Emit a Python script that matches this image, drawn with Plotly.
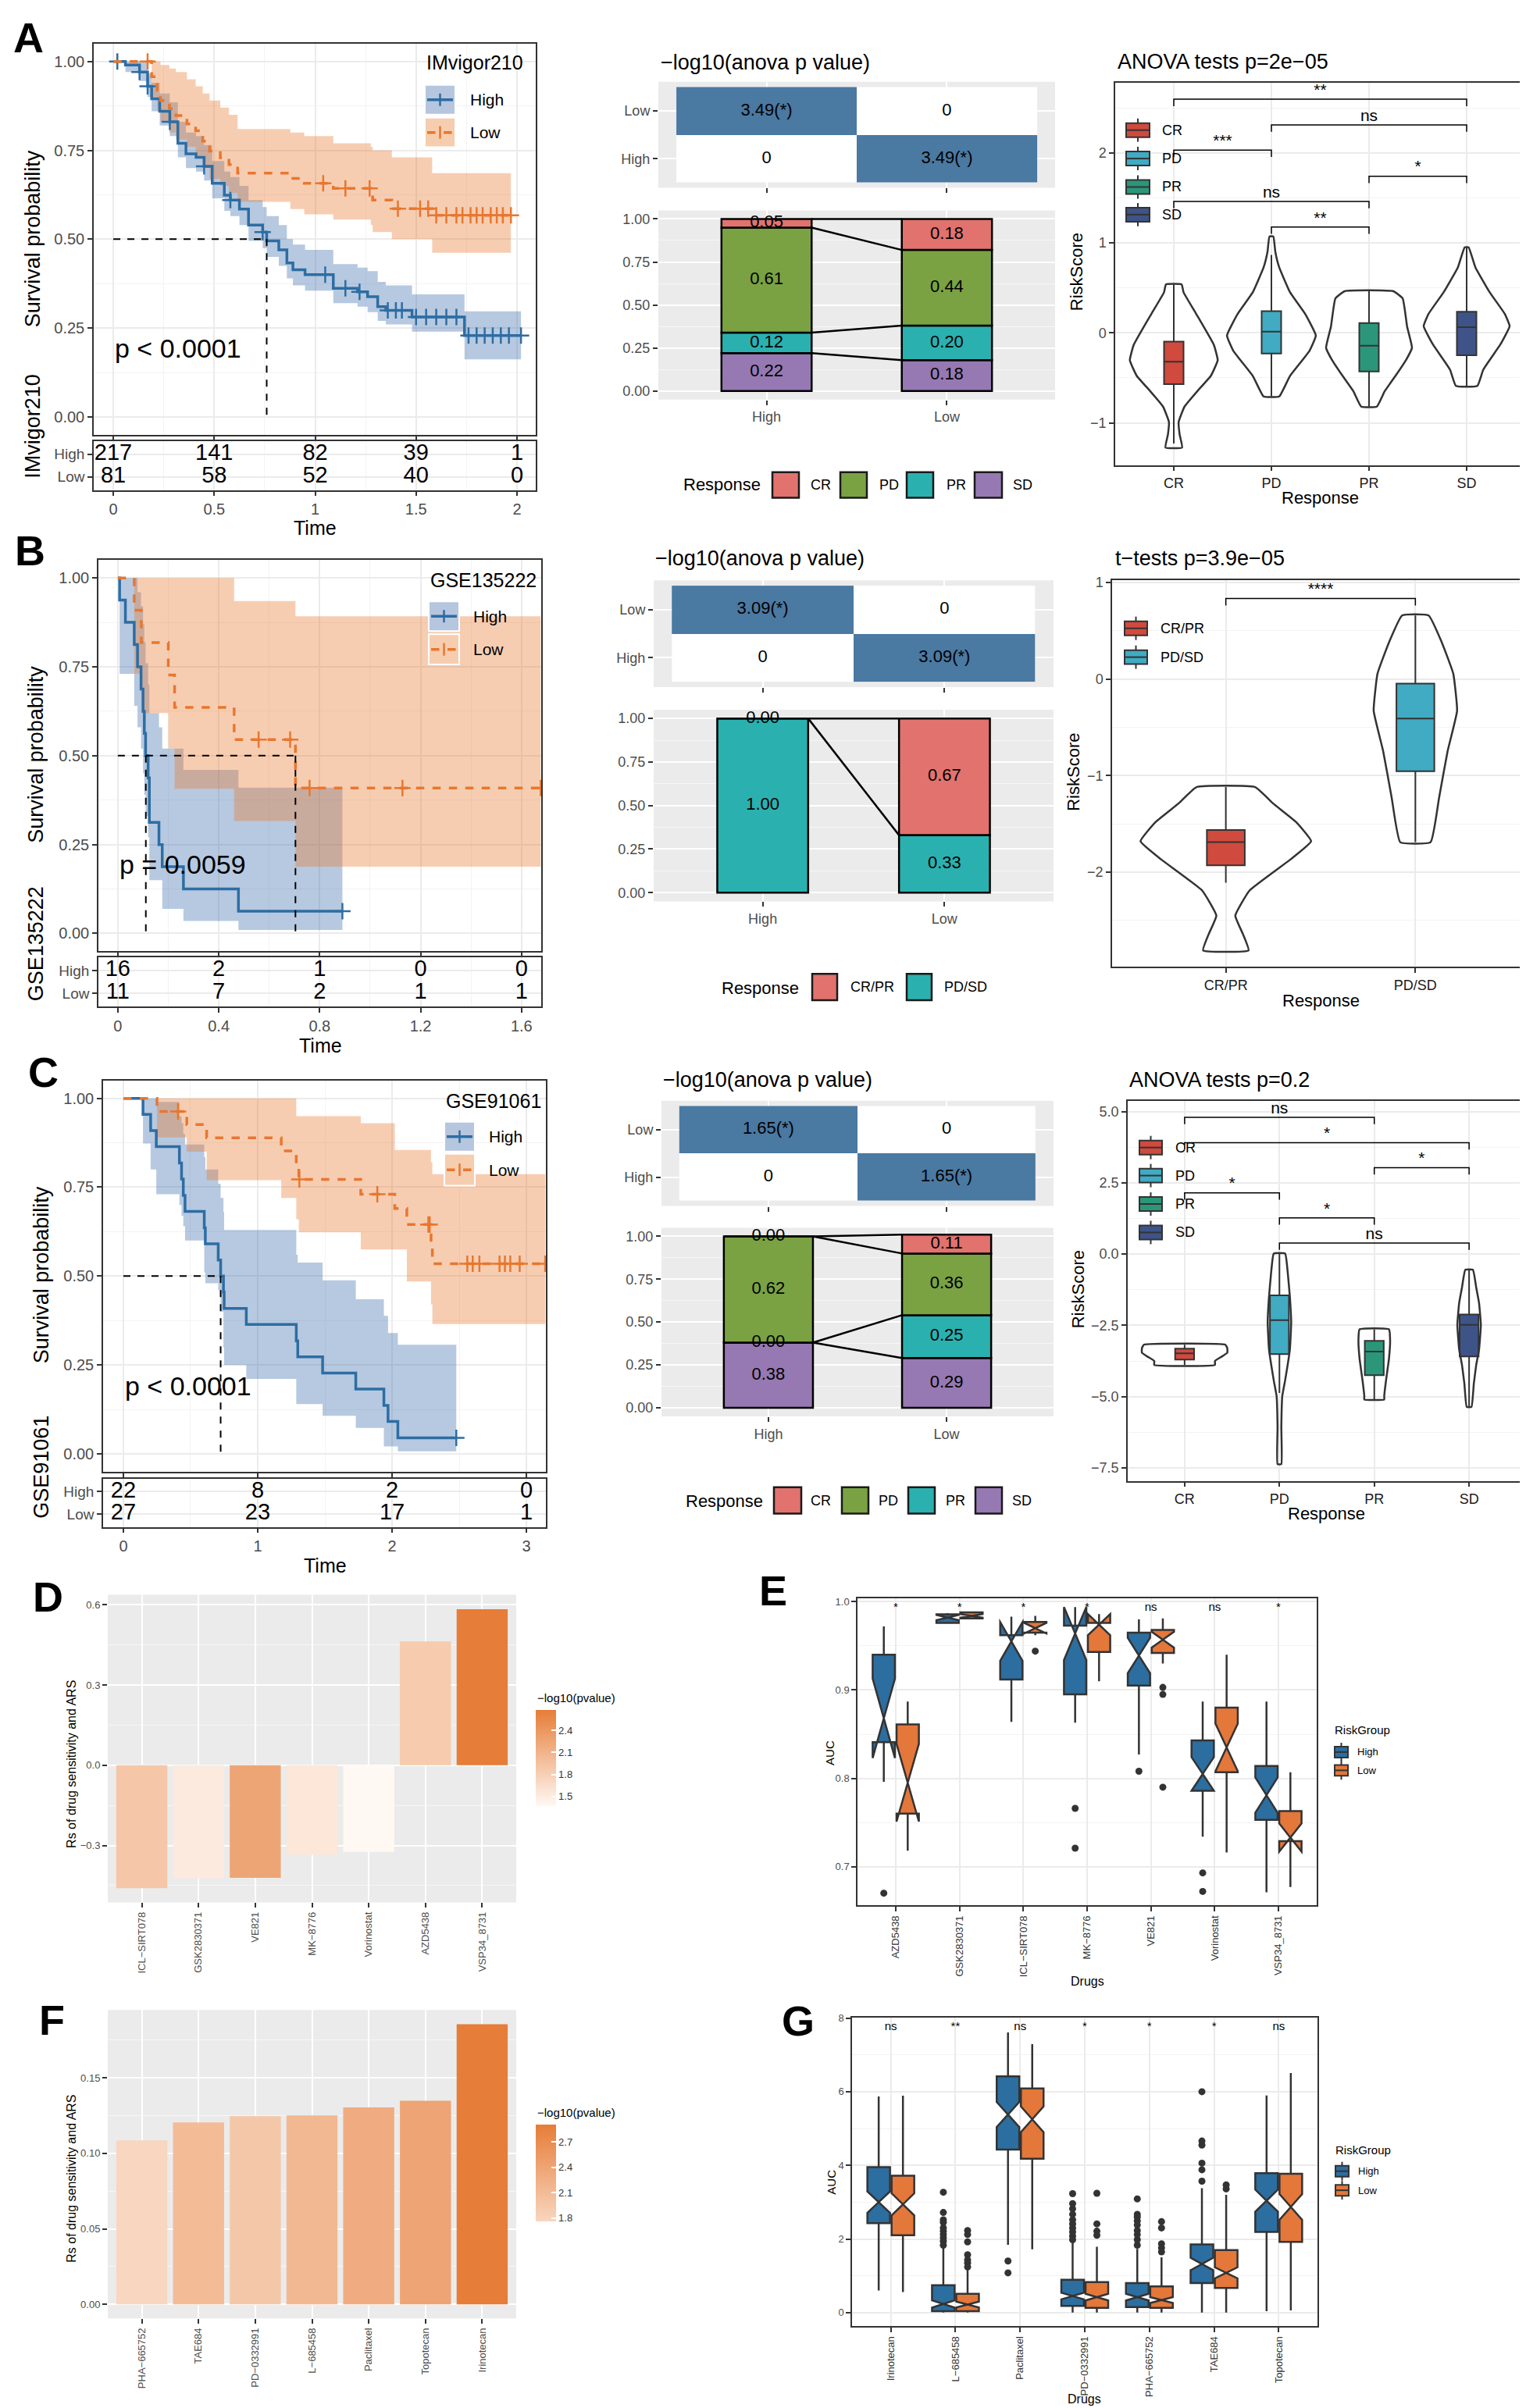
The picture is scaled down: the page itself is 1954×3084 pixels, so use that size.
import plotly.graph_objects as go

FONT = "Liberation Sans"
W, H = 1954, 3084

# ============================ DATA ============================
# ---------- Panel A : IMvigor210 ----------
A_cohort = "IMvigor210"
A_pval = "p &lt; 0.0001"
A_high_t = [0, 0.06, 0.13, 0.17, 0.19, 0.23, 0.28, 0.32, 0.36, 0.41, 0.45, 0.49, 0.55, 0.58, 0.625, 0.67, 0.74, 0.76, 0.82, 0.86, 0.89, 0.95, 1.09, 1.21, 1.26, 1.31, 1.35, 1.48, 1.74, 2.02]
A_high_s = [1.0, 0.99, 0.97, 0.93, 0.895, 0.86, 0.83, 0.77, 0.74, 0.73, 0.705, 0.657, 0.624, 0.61, 0.585, 0.54, 0.52, 0.495, 0.47, 0.433, 0.414, 0.40, 0.362, 0.352, 0.338, 0.31, 0.30, 0.281, 0.229, 0.229]
A_high_up = [1.0, 1.0, 1.0, 0.965, 0.94, 0.91, 0.885, 0.83, 0.80, 0.79, 0.765, 0.72, 0.69, 0.675, 0.65, 0.61, 0.59, 0.565, 0.54, 0.50, 0.485, 0.47, 0.43, 0.42, 0.41, 0.38, 0.37, 0.345, 0.297, 0.297]
A_high_lo = [1.0, 0.97, 0.945, 0.90, 0.86, 0.82, 0.79, 0.73, 0.70, 0.69, 0.665, 0.615, 0.58, 0.565, 0.54, 0.495, 0.475, 0.45, 0.425, 0.39, 0.37, 0.355, 0.32, 0.31, 0.295, 0.27, 0.26, 0.24, 0.162, 0.162]
A_high_cens = [0.02, 0.13, 0.17, 0.28, 0.45, 0.58, 0.74, 1.05, 1.15, 1.22, 1.36, 1.4, 1.43, 1.5, 1.55, 1.6, 1.65, 1.7, 1.76, 1.8, 1.84, 1.88, 1.92, 1.96, 2.02]
A_low_t = [0, 0.19, 0.217, 0.234, 0.278, 0.31, 0.365, 0.408, 0.443, 0.477, 0.53, 0.573, 0.616, 0.877, 0.946, 1.09, 1.276, 1.285, 1.38, 1.58, 1.97]
A_low_s = [1.0, 0.957, 0.919, 0.89, 0.867, 0.848, 0.824, 0.805, 0.776, 0.748, 0.729, 0.71, 0.686, 0.671, 0.657, 0.643, 0.624, 0.61, 0.586, 0.567, 0.567]
A_low_up = [1.0, 1.0, 1.0, 0.99, 0.98, 0.97, 0.95, 0.93, 0.91, 0.89, 0.87, 0.85, 0.81, 0.80, 0.79, 0.77, 0.76, 0.75, 0.73, 0.686, 0.686]
A_low_lo = [1.0, 0.90, 0.86, 0.83, 0.80, 0.78, 0.76, 0.73, 0.70, 0.67, 0.65, 0.63, 0.605, 0.585, 0.57, 0.555, 0.54, 0.52, 0.50, 0.462, 0.462]
A_low_cens = [0.17, 1.04, 1.15, 1.27, 1.41, 1.52, 1.56, 1.6, 1.65, 1.7, 1.73, 1.77, 1.8, 1.83, 1.87, 1.9, 1.93, 1.97]
A_median = [0.76]
A_risk_times = [0, 0.5, 1, 1.5, 2]
A_risk_high = [217, 141, 82, 39, 1]
A_risk_low = [81, 58, 52, 40, 0]
A_anova = 3.49
A_resp = ["CR", "PD", "PR", "SD"]
A_frac_high = [0.05, 0.61, 0.12, 0.22]
A_frac_low = [0.18, 0.44, 0.20, 0.18]
A_vio_title = "ANOVA tests p=2e\u221205"
A_vio_y = [[0.538, 0.45, 0.21, -0.133, -0.305, -0.477, -0.65, -0.82, -0.99, -1.13, -1.275],
           [1.07, 0.9, 0.727, 0.452, 0.211, -0.03, -0.2, -0.48, -0.707],
           [0.462, 0.38, 0.07, -0.167, -0.3, -0.48, -0.65, -0.82],
           [0.95, 0.727, 0.452, 0.211, 0.074, -0.13, -0.41, -0.59]]
A_vio_w = [[0.08, 0.1, 0.23, 0.41, 0.45, 0.38, 0.24, 0.11, 0.05, 0.06, 0.085],
           [0.02, 0.04, 0.08, 0.19, 0.345, 0.455, 0.39, 0.19, 0.08],
           [0.25, 0.345, 0.39, 0.44, 0.38, 0.27, 0.16, 0.08],
           [0.02, 0.09, 0.235, 0.39, 0.44, 0.345, 0.17, 0.11]]
A_box_q1 = [-0.57, -0.23, -0.43, -0.25]
A_box_med = [-0.322, 0.012, -0.143, 0.063]
A_box_q3 = [-0.098, 0.24, 0.108, 0.235]
A_box_lo = [-1.23, -0.707, -0.82, -0.59]
A_box_hi = [0.538, 0.865, 0.462, 0.95]
A_sig_i = [1, 2, 1, 3, 1, 2]
A_sig_j = [4, 4, 2, 4, 3, 3]
A_sig_y = [2.595, 2.31, 2.03, 1.74, 1.46, 1.175]
A_sig_lab = ["**", "ns", "***", "*", "ns", "**"]

# ---------- Panel B : GSE135222 ----------
B_cohort = "GSE135222"
B_pval = "p = 0.0059"
B_high_t = [0, 0.007, 0.03, 0.065, 0.078, 0.092, 0.1, 0.105, 0.11, 0.12, 0.125, 0.163, 0.176, 0.26, 0.478, 0.89]
B_high_s = [1.0, 0.9375, 0.875, 0.8125, 0.75, 0.6875, 0.625, 0.5625, 0.5, 0.4375, 0.3125, 0.25, 0.1875, 0.125, 0.0625, 0.0625]
B_high_up = [1.0, 1.0, 1.0, 1.0, 0.96, 0.92, 0.87, 0.82, 0.76, 0.70, 0.62, 0.58, 0.52, 0.46, 0.41, 0.41]
B_high_lo = [1.0, 0.73, 0.73, 0.64, 0.58, 0.52, 0.45, 0.39, 0.33, 0.27, 0.15, 0.15, 0.069, 0.035, 0.01, 0.01]
B_high_cens = [0.89]
B_low_t = [0, 0.065, 0.093, 0.2, 0.225, 0.461, 0.704, 1.676]
B_low_s = [1.0, 0.909, 0.818, 0.727, 0.636, 0.545, 0.409, 0.409]
B_low_up = [1.0, 1.0, 1.0, 1.0, 1.0, 0.935, 0.892, 0.892]
B_low_lo = [1.0, 0.73, 0.62, 0.52, 0.407, 0.316, 0.188, 0.188]
B_low_cens = [0.558, 0.683, 0.76, 1.128, 1.676]
B_median = [0.111, 0.704]
B_risk_times = [0, 0.4, 0.8, 1.2, 1.6]
B_risk_high = [16, 2, 1, 0, 0]
B_risk_low = [11, 7, 2, 1, 1]
B_anova = 3.09
B_resp = ["CR/PR", "PD/SD"]
B_frac_high = [0.00, 1.00]
B_frac_low = [0.67, 0.33]
B_vio_title = "t\u2212tests p=3.9e\u221205"
B_vio_y = [[-1.12, -1.29, -1.48, -1.68, -1.87, -2.19, -2.45, -2.64, -2.81],
           [0.657, 0.375, 0.054, -0.33, -0.747, -1.23, -1.69]]
B_vio_w = [[0.155, 0.25, 0.37, 0.45, 0.34, 0.125, 0.05, 0.09, 0.12],
           [0.07, 0.14, 0.2, 0.22, 0.17, 0.125, 0.08]]
B_box_q1 = [-1.93, -0.955]
B_box_med = [-1.69, -0.41]
B_box_q3 = [-1.564, -0.048]
B_box_lo = [-2.11, -1.69]
B_box_hi = [-1.12, 0.657]
B_sig_i = [1]
B_sig_j = [2]
B_sig_y = [0.833]
B_sig_lab = ["****"]

# ---------- Panel C : GSE91061 ----------
C_cohort = "GSE91061"
C_pval = "p &lt; 0.0001"
C_high_t = [0, 0.146, 0.203, 0.245, 0.417, 0.433, 0.446, 0.459, 0.602, 0.61, 0.706, 0.724, 0.745, 0.75, 0.915, 1.287, 1.298, 1.483, 1.73, 1.939, 1.97, 2.043, 2.478]
C_high_s = [1.0, 0.955, 0.909, 0.864, 0.818, 0.773, 0.727, 0.682, 0.636, 0.591, 0.545, 0.5, 0.455, 0.409, 0.364, 0.318, 0.273, 0.227, 0.182, 0.136, 0.091, 0.045, 0.045]
C_high_up = [1.0, 1.0, 1.0, 0.99, 0.95, 0.93, 0.90, 0.87, 0.835, 0.80, 0.76, 0.72, 0.68, 0.63, 0.63, 0.56, 0.538, 0.488, 0.435, 0.388, 0.34, 0.307, 0.307]
C_high_lo = [1.0, 0.873, 0.80, 0.73, 0.70, 0.67, 0.64, 0.60, 0.51, 0.48, 0.46, 0.40, 0.30, 0.25, 0.211, 0.14, 0.14, 0.107, 0.073, 0.021, 0.021, 0.007, 0.007]
C_high_cens = [2.478]
C_low_t = [0, 0.25, 0.472, 0.62, 1.175, 1.287, 1.306, 1.767, 2.02, 2.11, 2.29, 2.30, 3.14]
C_low_s = [1.0, 0.963, 0.926, 0.889, 0.852, 0.815, 0.772, 0.73, 0.69, 0.645, 0.59, 0.535, 0.535]
C_low_up = [1.0, 1.0, 1.0, 1.0, 1.0, 0.95, 0.95, 0.93, 0.855, 0.855, 0.82, 0.787, 0.787]
C_low_lo = [1.0, 0.89, 0.85, 0.77, 0.72, 0.66, 0.623, 0.575, 0.575, 0.485, 0.42, 0.365, 0.365]
C_low_cens = [0.407, 1.31, 1.89, 2.27, 2.28, 2.56, 2.6, 2.65, 2.8, 2.84, 2.88, 2.95, 3.14]
C_median = [0.724]
C_risk_times = [0, 1, 2, 3]
C_risk_high = [22, 8, 2, 0]
C_risk_low = [27, 23, 17, 1]
C_anova = 1.65
C_resp = ["CR", "PD", "PR", "SD"]
C_frac_high = [0.00, 0.62, 0.00, 0.38]
C_frac_low = [0.11, 0.36, 0.25, 0.29]
C_vio_title = "ANOVA tests p=0.2"
C_vio_y = [[-3.18, -3.3, -3.46, -3.62, -3.75, -3.89],
           [0.02, -0.63, -1.5, -2.39, -3.35, -4.43, -4.98, -6.07, -7.37],
           [-2.64, -3.02, -3.67, -4.43, -4.98, -5.1],
           [-0.55, -1.17, -1.72, -2.48, -3.35, -3.89, -4.54, -5.36]]
C_vio_w = [[0.43, 0.45, 0.45, 0.38, 0.32, 0.32],
           [0.06, 0.087, 0.11, 0.124, 0.11, 0.06, 0.03, 0.02, 0.02],
           [0.155, 0.167, 0.155, 0.124, 0.105, 0.105],
           [0.04, 0.075, 0.105, 0.124, 0.105, 0.075, 0.05, 0.025]]
C_box_q1 = [-3.70, -3.51, -4.25, -3.59]
C_box_med = [-3.48, -2.32, -3.42, -2.48]
C_box_q3 = [-3.32, -1.45, -3.04, -2.12]
C_box_lo = [-3.89, -4.87, -5.1, -5.36]
C_box_hi = [-3.18, 0.02, -2.64, -0.55]
C_sig_i = [1, 1, 3, 1, 2, 2]
C_sig_j = [3, 4, 4, 2, 3, 4]
C_sig_y = [4.8, 3.91, 3.03, 2.15, 1.27, 0.39]
C_sig_lab = ["ns", "*", "*", "*", "*", "ns"]

# ---------- Panel D ----------
D_drugs = ["ICL\u2212SIRT078", "GSK2830371", "VE821", "MK\u22128776", "Vorinostat", "AZD5438", "VSP34_8731"]
D_rs = [-0.46, -0.423, -0.421, -0.334, -0.324, 0.463, 0.584]
D_logp = [1.9, 1.52, 2.25, 1.55, 1.37, 1.85, 2.68]

# ---------- Panel E ----------
E_drugs = ["AZD5438", "GSK2830371", "ICL\u2212SIRT078", "MK\u22128776", "VE821", "Vorinostat", "VSP34_8731"]
E_sig = ["*", "*", "*", "*", "ns", "ns", "*"]
E_high_q1 = [0.841, 0.976, 0.912, 0.895, 0.905, 0.786, 0.753]
E_high_med = [0.868, 0.982, 0.955, 0.964, 0.939, 0.805, 0.781]
E_high_q3 = [0.94, 0.9857, 0.962, 0.973, 0.965, 0.843, 0.814]
E_high_lo = [0.796, 0.975, 0.864, 0.863, 0.827, 0.734, 0.671]
E_high_hi = [0.972, 0.987, 0.983, 0.988, 0.98, 0.887, 0.887]
E_high_notch = [0.045, 0.003, 0.022, 0.03, 0.02, 0.019, 0.02]
E_high_out = [[0.67], [], [], [0.766, 0.721], [0.808], [0.693, 0.672], []]
E_low_q1 = [0.760, 0.981, 0.965, 0.943, 0.942, 0.807, 0.729]
E_low_med = [0.795, 0.984, 0.97, 0.974, 0.957, 0.835, 0.733]
E_low_q3 = [0.861, 0.988, 0.977, 0.976, 0.968, 0.88, 0.763]
E_low_lo = [0.718, 0.980, 0.962, 0.91, 0.93, 0.716, 0.677]
E_low_hi = [0.887, 0.989, 0.984, 0.986, 0.981, 0.94, 0.807]
E_low_notch = [0.044, 0.002, 0.006, 0.012, 0.009, 0.027, 0.016]
E_low_out = [[], [], [0.944], [], [0.903, 0.895, 0.79], [], []]

# ---------- Panel F ----------
F_drugs = ["PHA\u2212665752", "TAE684", "PD\u22120332991", "L\u2212685458", "Paclitaxel", "Topotecan", "Irinotecan"]
F_rs = [0.1086, 0.1205, 0.1246, 0.1252, 0.1304, 0.1348, 0.1855]
F_logp = [1.763, 2.1, 1.95, 2.15, 2.3, 2.4, 2.908]

# ---------- Panel G ----------
G_drugs = ["Irinotecan", "L\u2212685458", "Paclitaxel", "PD\u22120332991", "PHA\u2212665752", "TAE684", "Topotecan"]
G_sig = ["ns", "**", "ns", "*", "*", "*", "ns"]
G_high_q1 = [2.43, 0.037, 4.43, 0.18, 0.15, 0.8, 2.19]
G_high_med = [3.0, 0.234, 5.38, 0.45, 0.42, 1.32, 3.04]
G_high_q3 = [3.95, 0.746, 6.42, 0.89, 0.8, 1.85, 3.79]
G_high_lo = [0.6, 0.0, 1.84, 0.0, 0.0, 0.0, 0.04]
G_high_hi = [5.87, 1.76, 7.61, 1.9, 1.73, 3.38, 5.9]
G_high_notch = [0.29, 0.1, 0.34, 0.09, 0.09, 0.17, 0.3]
G_high_out = [[], [3.27, 2.72, 2.52, 2.45, 2.3, 2.21, 2.12, 2.03, 1.94, 1.83], [1.40, 1.08],
              [3.23, 2.96, 2.82, 2.67, 2.52, 2.41, 2.3, 2.19, 2.08, 1.98],
              [3.09, 2.67, 2.6, 2.49, 2.38, 2.23, 2.12, 1.98, 1.83], [6.0, 4.66, 4.55, 4.06, 3.88, 3.57], []]
G_low_q1 = [2.1, 0.04, 4.18, 0.13, 0.13, 0.67, 1.92]
G_low_med = [2.94, 0.22, 5.25, 0.42, 0.34, 1.08, 2.87]
G_low_q3 = [3.72, 0.512, 6.09, 0.83, 0.71, 1.7, 3.77]
G_low_lo = [0.56, 0.0, 1.72, 0.0, 0.0, 0.0, 0.06]
G_low_hi = [5.89, 1.17, 7.29, 1.79, 1.5, 3.2, 6.51]
G_low_notch = [0.3, 0.08, 0.35, 0.09, 0.08, 0.15, 0.35]
G_low_out = [[], [2.23, 2.12, 1.92, 1.57, 1.43, 1.35, 1.24], [], [3.24, 2.41, 2.21, 2.1],
             [2.47, 2.3, 1.87, 1.76, 1.65], [3.47, 3.36], []]

# ============================ STYLE ============================
BLUE, ORANGE = "#2D6DA3", "#E8772E"
BLUE_F, ORANGE_F = "rgba(45,100,165,0.35)", "rgba(232,119,46,0.37)"
BLUE_KEY, ORANGE_KEY = "#B6C6DE", "#F6CDAE"
HEAT_BLUE = "#4A79A2"
RESP4 = ["#E2726E", "#7AA243", "#2AB1AF", "#9679B2"]
RESP2 = ["#E2726E", "#2AB1AF"]
VIO4 = ["#D04A3E", "#40ABC3", "#2B967A", "#3E5488"]
VIO2 = ["#D04A3E", "#40ABC3"]
BOX_BLUE, BOX_ORANGE = "#2C6E9F", "#E4773A"
DARK = "#333333"
GRID_BW, MINOR_BW = "#EBEBEB", "#F3F3F3"


def fx(p):
    return p / W


def fy(p):
    return 1 - p / H


traces, shapes, annotations = [], [], []
layout = dict(width=W, height=H, margin=dict(l=0, r=0, t=0, b=0), paper_bgcolor="white",
              plot_bgcolor="rgba(0,0,0,0)", font=dict(family=FONT, color="#1a1a1a"),
              showlegend=False, barmode="overlay", boxmode="overlay", hovermode=False)
_n = [0]


def new_axes(x0, x1, y0, y1, xr, yr, xopts, yopts):
    _n[0] += 1
    k = "" if _n[0] == 1 else str(_n[0])
    xa = dict(domain=[fx(x0), fx(x1)], range=xr, anchor="y" + k, zeroline=False, fixedrange=True)
    ya = dict(domain=[fy(y1), fy(y0)], range=yr, anchor="x" + k, zeroline=False, fixedrange=True)
    xa.update(xopts)
    ya.update(yopts)
    layout["xaxis" + k] = xa
    layout["yaxis" + k] = ya
    return "x" + k, "y" + k


def bw(size=20, color="#4D4D4D", minor=None, **kw):
    d = dict(showline=True, mirror=True, linecolor=DARK, linewidth=1.5, showgrid=True,
             gridcolor=GRID_BW, gridwidth=1.6, ticks="outside", ticklen=6, tickwidth=1.5,
             tickcolor=DARK, showticklabels=True, tickfont=dict(size=size, color=color, family=FONT))
    if minor is not None:
        d["minor"] = dict(dtick=minor, showgrid=True, gridcolor=MINOR_BW, gridwidth=1)
    d.update(kw)
    return d


def grey(size=18, color="#4D4D4D", minor=None, **kw):
    d = dict(showline=False, showgrid=True, gridcolor="white", gridwidth=2, ticks="outside",
             ticklen=6, tickwidth=1.5, tickcolor=DARK, showticklabels=True,
             tickfont=dict(size=size, color=color, family=FONT))
    if minor is not None:
        d["minor"] = dict(dtick=minor, showgrid=True, gridcolor="#F7F7F7", gridwidth=1)
    d.update(kw)
    return d


def grey_bg(xa, ya):
    shapes.append(dict(type="rect", xref=xa + " domain", yref=ya + " domain", x0=0, x1=1, y0=0, y1=1,
                       fillcolor="#EBEBEB", line=dict(width=0), layer="below"))


def ann(text, x, y, size, color="#1a1a1a", xanchor="center", yanchor="middle", angle=0):
    annotations.append(dict(text=text, x=fx(x), y=fy(y), xref="paper", yref="paper", showarrow=False,
                            xanchor=xanchor, yanchor=yanchor, textangle=angle,
                            font=dict(family=FONT, size=size, color=color)))


def prect(x0, y0, x1, y1, fill, lc=None, lw=0, layer="above"):
    shapes.append(dict(type="rect", xref="paper", yref="paper", x0=fx(x0), x1=fx(x1), y0=fy(y1), y1=fy(y0),
                       fillcolor=fill, line=dict(color=lc or fill, width=lw), layer=layer))


def pline(x0, y0, x1, y1, color, w, dash="solid"):
    shapes.append(dict(type="line", xref="paper", yref="paper", x0=fx(x0), x1=fx(x1), y0=fy(y0), y1=fy(y1),
                       line=dict(color=color, width=w, dash=dash)))


def step_at(t, s, c):
    v = s[0]
    for ti, si in zip(t, s):
        if ti <= c:
            v = si
    return v


# ============================ KM BLOCKS ============================
def km_block(px, py, ty, xr, dt, mdt, hi, lo, meds, rt, rh, rl, pval, ppos, cohort,
             leg, ylab_pos, coh_pos, time_pos):
    xa, ya = new_axes(px[0], px[1], py[0], py[1], xr, [-0.05, 1.05],
                      bw(tick0=0, dtick=dt, showticklabels=False, minor=mdt),
                      bw(tick0=0, dtick=0.25, tickformat=".2f", minor=0.125))
    for g, fillc in ((hi, BLUE_F), (lo, ORANGE_F)):
        t, s, up, dn, cens = g
        traces.append(go.Scatter(x=t, y=dn, mode="lines", line=dict(width=0, shape="hv"), xaxis=xa, yaxis=ya))
        traces.append(go.Scatter(x=t, y=up, mode="lines", line=dict(width=0, shape="hv"), fill="tonexty",
                                 fillcolor=fillc, xaxis=xa, yaxis=ya))
    for g, col, dash in ((hi, BLUE, "solid"), (lo, ORANGE, "dash")):
        t, s, up, dn, cens = g
        traces.append(go.Scatter(x=t, y=s, mode="lines", line=dict(color=col, width=3.5, shape="hv", dash=dash),
                                 xaxis=xa, yaxis=ya))
        traces.append(go.Scatter(x=cens, y=[step_at(t, s, c) for c in cens], mode="markers",
                                 marker=dict(symbol="cross-thin", size=15, line=dict(width=2.5, color=col)),
                                 xaxis=xa, yaxis=ya))
    traces.append(go.Scatter(x=[0, max(meds)], y=[0.5, 0.5], mode="lines",
                             line=dict(color="black", width=2, dash="dash"), xaxis=xa, yaxis=ya))
    for m in meds:
        traces.append(go.Scatter(x=[m, m], y=[0.5, 0], mode="lines",
                                 line=dict(color="black", width=2, dash="dash"), xaxis=xa, yaxis=ya))
    # risk table
    xb, yb = new_axes(px[0], px[1], ty[0], ty[1], xr, [0.414, 2.586],
                      bw(tick0=0, dtick=dt, minor=mdt),
                      bw(size=19, tickmode="array", tickvals=[1, 2], ticktext=["Low", "High"]))
    traces.append(go.Scatter(x=rt, y=[2] * len(rt), mode="text", text=[str(v) for v in rh],
                             textfont=dict(size=29, color="black", family=FONT), xaxis=xb, yaxis=yb))
    traces.append(go.Scatter(x=rt, y=[1] * len(rt), mode="text", text=[str(v) for v in rl],
                             textfont=dict(size=29, color="black", family=FONT), xaxis=xb, yaxis=yb))
    # texts
    ann(pval, ppos[0], ppos[1], 34, color="black", xanchor="left")
    ann("Survival probability", ylab_pos[0], ylab_pos[1], 27, color="black", angle=-90)
    ann(cohort, coh_pos[0], coh_pos[1], 27, color="black", angle=-90)
    ann("Time", time_pos[0], time_pos[1], 25, color="black")
    # legend
    lx, ty0, k1, k2, labx = leg
    ann(cohort, lx, ty0, 25, color="black", xanchor="left")
    for (y0, y1), col, fc, dash, lab in ((k1, BLUE, BLUE_KEY, "solid", "High"),
                                          (k2, ORANGE, ORANGE_KEY, "dash", "Low")):
        prect(lx, y0, lx + 39, y1, fc, "white", 2)
        cy = (y0 + y1) / 2
        pline(lx + 3, cy, lx + 36, cy, col, 3.5, dash)
        pline(lx + 19.5, cy - 8, lx + 19.5, cy + 8, col, 2.5)
        ann(lab, labx, cy, 21, color="black", xanchor="left")


km_block((112, 678), (41, 543), (551, 614), [-0.097, 2.093], 0.5, 0.25,
         (A_high_t, A_high_s, A_high_up, A_high_lo, A_high_cens),
         (A_low_t, A_low_s, A_low_up, A_low_lo, A_low_cens),
         A_median, A_risk_times, A_risk_high, A_risk_low, A_pval, (137, 432), A_cohort,
         (536, 65, (94, 132), (136, 174), 592), (34, 292), (34, 532), (395, 663))
km_block((118, 685), (704, 1206), (1214, 1277), [-0.077, 1.678], 0.4, 0.2,
         (B_high_t, B_high_s, B_high_up, B_high_lo, B_high_cens),
         (B_low_t, B_low_s, B_low_up, B_low_lo, B_low_cens),
         B_median, B_risk_times, B_risk_high, B_risk_low, B_pval, (143, 1094), B_cohort,
         (541, 730, (757, 795), (799, 838), 596), (38, 954), (38, 1197), (402, 1327))
km_block((124, 691), (1372, 1874), (1883, 1945), [-0.151, 3.145], 1, 0.5,
         (C_high_t, C_high_s, C_high_up, C_high_lo, C_high_cens),
         (C_low_t, C_low_s, C_low_up, C_low_lo, C_low_cens),
         C_median, C_risk_times, C_risk_high, C_risk_low, C_pval, (150, 1764), C_cohort,
         (561, 1398, (1425, 1463), (1466, 1507), 616), (45, 1622), (45, 1868), (408, 1995))


# ============================ HEATMAP + STACKED ============================
def mid_block(px, hy, by, title_pos, val, resp, fh, fl, colors, leg):
    xa, ya = new_axes(px[0], px[1], hy[0], hy[1], [0.4, 2.6], [0.39, 2.61],
                      grey(tickmode="array", tickvals=[1, 2], showticklabels=False),
                      grey(tickmode="array", tickvals=[1, 2], ticktext=["High", "Low"]))
    grey_bg(xa, ya)
    z = [[0, val], [val, 0]]
    traces.append(go.Heatmap(x=[1, 2], y=[1, 2], z=z, colorscale=[[0, "white"], [1, HEAT_BLUE]],
                             showscale=False, zmin=0, zmax=val, xaxis=xa, yaxis=ya))
    tx, ty, tt = [], [], []
    for r in range(2):
        for c in range(2):
            tx.append(c + 1)
            ty.append(r + 1)
            tt.append("%.2f(*)" % z[r][c] if z[r][c] > 0 else "0")
    traces.append(go.Scatter(x=tx, y=ty, mode="text", text=tt,
                             textfont=dict(size=22, color="black", family=FONT), xaxis=xa, yaxis=ya))
    ann("\u2212log10(anova p value)", title_pos[0], title_pos[1], 27, color="black", xanchor="left")

    xb, yb = new_axes(px[0], px[1], by[0], by[1], [0.4, 2.6], [-0.05, 1.05],
                      grey(tickmode="array", tickvals=[1, 2], ticktext=["High", "Low"]),
                      grey(tick0=0, dtick=0.25, tickformat=".2f", minor=0.125))
    grey_bg(xb, yb)
    order = list(range(len(resp)))[::-1]  # bottom-most is last response level
    base_h, base_l = 0.0, 0.0
    cum_h, cum_l = [], []
    lx, ly, lt = [], [], []
    for i in order:
        traces.append(go.Bar(x=[1, 2], y=[fh[i], fl[i]], base=[base_h, base_l], width=0.5,
                             marker=dict(color=colors[i], line=dict(color="black", width=2.5)),
                             xaxis=xb, yaxis=yb))
        lx += [1, 2]
        ly += [base_h + fh[i] / 2, base_l + fl[i] / 2]
        lt += ["%.2f" % fh[i], "%.2f" % fl[i]]
        base_h += fh[i]
        base_l += fl[i]
        cum_h.append(base_h)
        cum_l.append(base_l)
    for h, l in zip(cum_h, cum_l):
        traces.append(go.Scatter(x=[1.25, 1.75], y=[h, l], mode="lines",
                                 line=dict(color="black", width=2.5), xaxis=xb, yaxis=yb))
    traces.append(go.Scatter(x=lx, y=ly, mode="text", text=lt,
                             textfont=dict(size=22, color="black", family=FONT), xaxis=xb, yaxis=yb))
    # legend
    rx, ry, keys, labs, (k0, k1) = leg
    ann("Response", rx, ry, 22, color="black", xanchor="left")
    for (a, b), lxp, name, col in zip(keys, labs, resp, colors):
        prect(a, k0, b, k1, col, "#1a1a1a", 2.5)
        ann(name, lxp, (k0 + k1) / 2, 18, color="black", xanchor="left")


mid_block((835, 1343), (90, 226), (255, 498), (836, 65), A_anova, A_resp, A_frac_high, A_frac_low, RESP4,
          (865, 607, [(981, 1015), (1068, 1102), (1153, 1187), (1240, 1275)], [1028, 1116, 1202, 1287], (591, 624)))
mid_block((829, 1341), (730, 867), (896, 1142), (829, 702), B_anova, B_resp, B_frac_high, B_frac_low, RESP2,
          (914, 1253, [(1032, 1064), (1153, 1185)], [1079, 1199], (1235, 1269)))
mid_block((839, 1341), (1398, 1533), (1561, 1803), (839, 1371), C_anova, C_resp, C_frac_high, C_frac_low, RESP4,
          (868, 1912, [(983, 1018), (1070, 1104), (1155, 1189), (1241, 1275)], [1028, 1115, 1201, 1286], (1894, 1928)))


# ============================ VIOLIN BLOCKS ============================
def vio_block(px, py, yr, dt, mdt, yfmt, resp, vy, vw, q1, med, q3, lo, hi, colors,
              si, sj, sy, slab, title_pos, title, ylab_pos, xlab_pos, leg):
    n = len(resp)
    xa, ya = new_axes(px[0], px[1], py[0], py[1], [0.4, n + 0.6], yr,
                      bw(size=18, color="#1a1a1a", tickmode="array", tickvals=list(range(1, n + 1)), ticktext=resp),
                      bw(size=18, tick0=0, dtick=dt, tickformat=yfmt, minor=mdt))
    lx0, lx1, lys, labx, bg = leg
    shapes.append(dict(type="rect", xref="paper", yref="paper", x0=fx(bg[0]), x1=fx(bg[2]), y0=fy(bg[3]),
                       y1=fy(bg[1]), fillcolor="white", line=dict(width=0), layer="between"))
    for k in range(n):
        c = k + 1
        xs = [c + w for w in vw[k]] + [c - w for w in vw[k][::-1]] + [c + vw[k][0]]
        ys = list(vy[k]) + list(vy[k][::-1]) + [vy[k][0]]
        traces.append(go.Scatter(x=xs, y=ys, mode="lines", fill="toself", fillcolor="rgba(255,255,255,0)",
                                 line=dict(color=DARK, width=2.5, shape="spline", smoothing=0.35),
                                 xaxis=xa, yaxis=ya))
        traces.append(go.Box(x=[c], q1=[q1[k]], median=[med[k]], q3=[q3[k]], lowerfence=[lo[k]],
                             upperfence=[hi[k]], width=0.2, fillcolor=colors[k], whiskerwidth=0,
                             line=dict(color=DARK, width=2), boxpoints=False, xaxis=xa, yaxis=ya))
    tip = (yr[1] - yr[0]) * 0.018
    for i, j, y, lab in zip(si, sj, sy, slab):
        traces.append(go.Scatter(x=[i, i, j, j], y=[y - tip, y, y, y - tip], mode="lines",
                                 line=dict(color="black", width=1.5), xaxis=xa, yaxis=ya))
        traces.append(go.Scatter(x=[(i + j) / 2], y=[y], mode="text", text=[lab], textposition="top center",
                                 textfont=dict(size=21, color="black", family=FONT), xaxis=xa, yaxis=ya))
    ann(title, title_pos[0], title_pos[1], 27, color="black", xanchor="left")
    ann("RiskScore", ylab_pos[0], ylab_pos[1], 22, color="black", angle=-90)
    ann("Response", xlab_pos[0], xlab_pos[1], 22, color="black")
    xc = (lx0 + lx1) / 2
    for k, cy in enumerate(lys):
        pline(xc, cy - 15, xc, cy + 15, DARK, 2)
        prect(lx0, cy - 9, lx1, cy + 9, colors[k], DARK, 2)
        pline(lx0, cy, lx1, cy, DARK, 2)
        ann(resp[k], labx, cy, 18, color="black", xanchor="left")


vio_block((1420, 1945), (91, 582), [-1.47, 2.78], 1, 0.5, "d", A_resp, A_vio_y, A_vio_w,
          A_box_q1, A_box_med, A_box_q3, A_box_lo, A_box_hi, VIO4, A_sig_i, A_sig_j, A_sig_y, A_sig_lab,
          (1421, 64), A_vio_title, (1370, 334), (1682, 624),
          (1434, 1464, [152, 188.5, 225, 260.5], 1478, (1428, 133, 1522, 278)))
vio_block((1416, 1950), (730, 1226), [-2.98, 1.02], 1, 0.5, "d", B_resp, B_vio_y, B_vio_w,
          B_box_q1, B_box_med, B_box_q3, B_box_lo, B_box_hi, VIO2, B_sig_i, B_sig_j, B_sig_y, B_sig_lab,
          (1418, 702), B_vio_title, (1367, 976), (1683, 1269),
          (1432, 1461, [791.5, 828.5], 1476, (1426, 773, 1530, 847)))
vio_block((1436, 1946), (1398, 1886), [-7.96, 5.38], 2.5, 1.25, ".1f", C_resp, C_vio_y, C_vio_w,
          C_box_q1, C_box_med, C_box_q3, C_box_lo, C_box_hi, VIO4, C_sig_i, C_sig_j, C_sig_y, C_sig_lab,
          (1436, 1371), C_vio_title, (1372, 1640), (1690, 1928),
          (1451, 1480, [1458, 1494, 1530.5, 1567], 1495, (1445, 1438, 1522, 1587)))


# ============================ D / F BAR CHARTS ============================
def corr_block(px, py, yr, dt, mdt, yfmt, drugs, rs, logp, scale, cb, cb_ticks, letter_pos, letter,
               cb_title_pos, ylab_pos):
    xa, ya = new_axes(px[0], px[1], py[0], py[1], [0.4, 7.6], yr,
                      grey(size=13, tickmode="array", tickvals=list(range(1, 8)), ticktext=drugs, tickangle=-90),
                      grey(size=13, tick0=0, dtick=dt, tickformat=yfmt, minor=mdt))
    grey_bg(xa, ya)
    traces.append(go.Bar(x=list(range(1, 8)), y=rs, width=0.9,
                         marker=dict(color=logp, colorscale=scale, cmin=min(logp), cmax=max(logp), showscale=True,
                                     line=dict(width=0),
                                     colorbar=dict(x=fx(678), xanchor="left", y=fy((cb[0] + cb[1]) / 2),
                                                   yanchor="middle", len=cb[1] - cb[0], lenmode="pixels",
                                                   thickness=26, thicknessmode="pixels", outlinewidth=0,
                                                   ticks="inside", ticklen=6, tickcolor="white", tickwidth=1.5,
                                                   tickvals=cb_ticks, tickformat=".1f", xpad=0, ypad=0,
                                                   tickfont=dict(size=13, color=DARK, family=FONT))),
                         xaxis=xa, yaxis=ya))
    ann("\u2212log10(pvalue)", cb_title_pos[0], cb_title_pos[1], 15, color="black", xanchor="left")
    ann("Rs of drug sensitivity and ARS", ylab_pos[0], ylab_pos[1], 16, color="black", angle=-90)
    ann("<b>%s</b>" % letter, letter_pos[0], letter_pos[1], 54, color="black")


corr_block((130, 653), (2032, 2427), [-0.513, 0.638], 0.3, 0.15, ".1f", D_drugs, D_rs, D_logp,
           [[0, "#FFF8F3"], [1, "#E67D38"]], (2180, 2303), [1.5, 1.8, 2.1, 2.4], (53, 2035), "D",
           (678, 2164), (84, 2250))
corr_block((130, 653), (2565, 2961), [-0.0093, 0.195], 0.05, 0.025, ".2f", F_drugs, F_rs, F_logp,
           [[0, "#F8D6BF"], [1, "#E67D38"]], (2712, 2836), [1.8, 2.1, 2.4, 2.7], (58, 2578), "F",
           (678, 2697), (84, 2782))


# ============================ E / G BOX CHARTS ============================
def auc_block(px, py, yr, dt, mdt, t0, yfmt, drugs, sig, sig_y, hs, ls, letter_pos, letter, ylab_pos,
              xlab_pos, leg):
    xa, ya = new_axes(px[0], px[1], py[0], py[1], [0.4, 7.6], yr,
                      bw(size=13, color=DARK, tickmode="array", tickvals=list(range(1, 8)), ticktext=drugs,
                         tickangle=-90),
                      bw(size=13, tick0=t0, dtick=dt, tickformat=yfmt, minor=mdt))
    for stats, off, col in ((hs, -0.1875, BOX_BLUE), (ls, 0.1875, BOX_ORANGE)):
        q1, md, q3, lo, hi, notch, outs = stats
        pos = [i + 1 + off for i in range(7)]
        traces.append(go.Box(x=pos, q1=q1, median=md, q3=q3, lowerfence=lo, upperfence=hi, notched=True,
                             notchspan=notch, notchwidth=0.5, width=0.35, fillcolor=col, whiskerwidth=0,
                             line=dict(color=DARK, width=2.5), boxpoints=False, xaxis=xa, yaxis=ya))
        ox, oy = [], []
        for p, vals in zip(pos, outs):
            ox += [p] * len(vals)
            oy += vals
        traces.append(go.Scatter(x=ox, y=oy, mode="markers", marker=dict(color=DARK, size=9),
                                 xaxis=xa, yaxis=ya))
    traces.append(go.Scatter(x=list(range(1, 8)), y=[sig_y] * 7, mode="text", text=sig,
                             textfont=dict(size=15, color="black", family=FONT), xaxis=xa, yaxis=ya))
    ann("<b>%s</b>" % letter, letter_pos[0], letter_pos[1], 54, color="black")
    ann("AUC", ylab_pos[0], ylab_pos[1], 15, color="black", angle=-90)
    ann("Drugs", xlab_pos[0], xlab_pos[1], 16, color="black")
    lx0, ty, c_hi, c_lo, labx = leg
    ann("RiskGroup", lx0 - 2, ty, 15, color="black", xanchor="left")
    for cy, col, lab in ((c_hi, BOX_BLUE, "High"), (c_lo, BOX_ORANGE, "Low")):
        xc = lx0 + 8.5
        pline(xc, cy - 12, xc, cy + 12, DARK, 2)
        prect(lx0, cy - 7, lx0 + 17, cy + 7, col, DARK, 2)
        pline(lx0, cy, lx0 + 17, cy, DARK, 2)
        ann(lab, labx, cy, 13, color="black", xanchor="left")


auc_block((1090, 1678), (2037, 2431), [0.656, 1.0035], 0.1, 0.05, 0.7, ".1f", E_drugs, E_sig, 0.993,
          (E_high_q1, E_high_med, E_high_q3, E_high_lo, E_high_hi, E_high_notch, E_high_out),
          (E_low_q1, E_low_med, E_low_q3, E_low_lo, E_low_hi, E_low_notch, E_low_out),
          (982, 2027), "E", (1055, 2235), (1384, 2528), (1701, 2206, 2234, 2257.5, 1728))
auc_block((1083, 1679), (2575, 2971), [-0.37, 8.01], 2, 1, 0, "d", G_drugs, G_sig, 7.76,
          (G_high_q1, G_high_med, G_high_q3, G_high_lo, G_high_hi, G_high_notch, G_high_out),
          (G_low_q1, G_low_med, G_low_q3, G_low_lo, G_low_hi, G_low_notch, G_low_out),
          (1014, 2579), "G", (1057, 2786), (1380, 3064), (1702, 2745, 2772, 2796.5, 1729))

# panel letters A-C
ann("<b>A</b>", 28, 33, 54, color="black")
ann("<b>B</b>", 30, 692, 54, color="black")
ann("<b>C</b>", 47, 1361, 54, color="black")

layout["shapes"] = shapes
layout["annotations"] = annotations
fig = go.Figure(data=traces, layout=layout)
fig.write_html("out.html")
